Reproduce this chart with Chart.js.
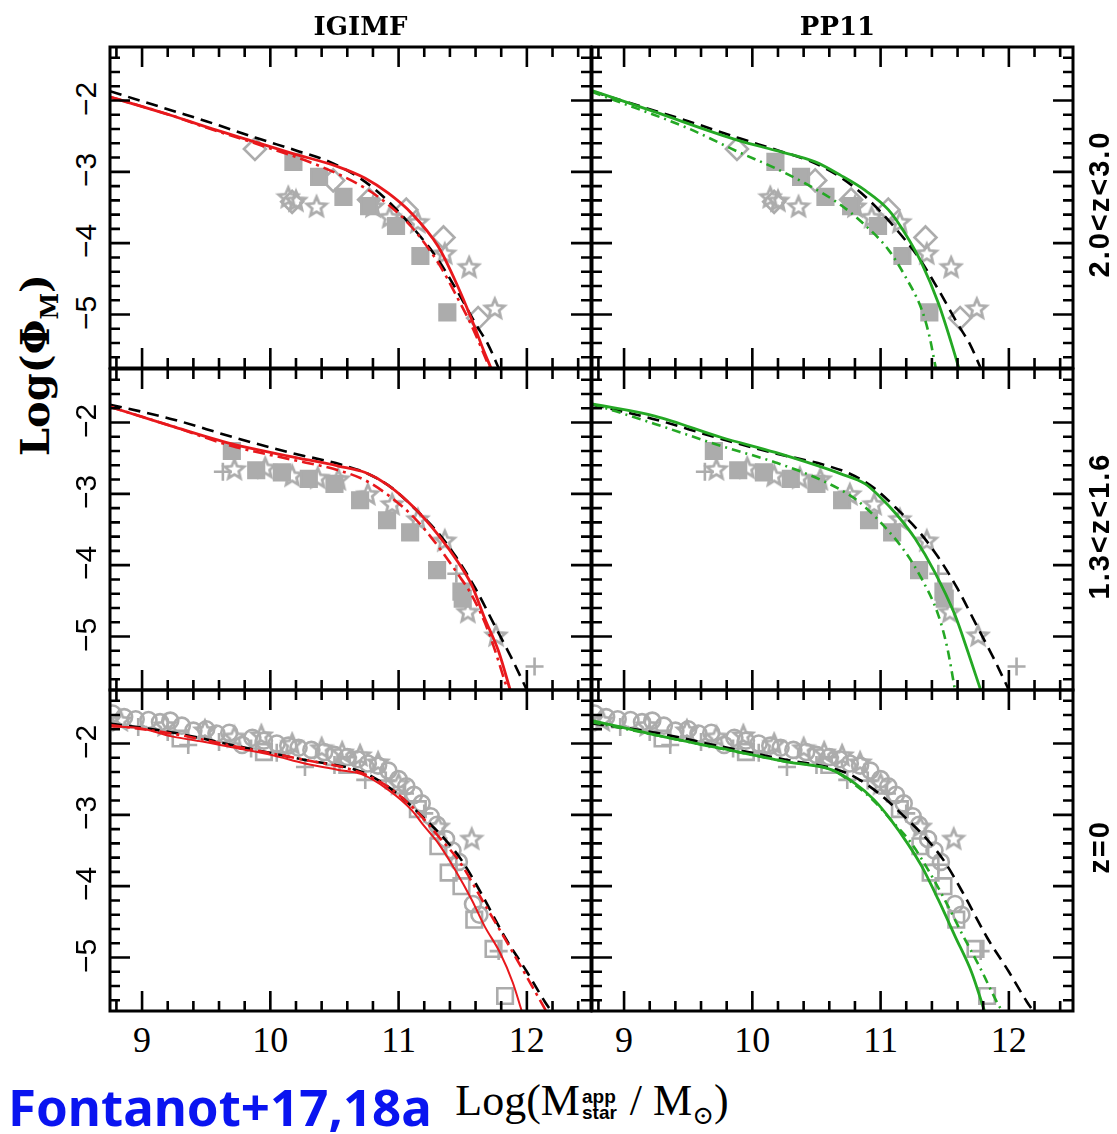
<!DOCTYPE html>
<html>
<head>
<meta charset="utf-8">
<script src="https://cdn.jsdelivr.net/npm/chart.js@4"></script>
<style>
  body { margin: 0; background: #fff; }
  #page { position: relative; width: 1117px; height: 1134px; overflow: hidden; background: #fff; }
  canvas { position: absolute; }
  .lbl { position: absolute; white-space: nowrap; line-height: 1; color: #000; }
  .ctr { transform: translate(-50%, -50%); }
  .rot { transform: translate(-50%, -50%) rotate(-90deg); }
  .serif { font-family: 'Liberation Serif', 'DejaVu Serif', serif; }
  .dserif { font-family: 'DejaVu Serif', serif; font-weight: bold; }
  .sans { font-family: 'Liberation Sans', Arial, sans-serif; }
  .stack { display: inline-block; vertical-align: middle; font-family: 'Liberation Sans', sans-serif; font-weight: bold; font-size: 19px; line-height: 0.85; text-align: left; margin: 0 2px; }
  .stack span { display: block; }
</style>
</head>
<body>
<div id="page"></div>
<script>
// axis ticks and labels
const xTicks = [9, 10, 11, 12];
const yTicks = [-2, -3, -4, -5];
const colTitles = ['IGIMF', 'PP11'];
const rowLabels = ['2.0<z<3.0', '1.3<z<1.6', 'z=0'];

// black dashed reference curve, one per redshift bin (same in both columns)
const ref_z25 = [[8.75,-1.87],[9.0,-2.01],[9.25,-2.15],[9.5,-2.29],[9.9,-2.53],[10.2,-2.70],[10.45,-2.85],[10.7,-3.09],[10.9,-3.38],[11.1,-3.76],[11.3,-4.21],[11.45,-4.65],[11.6,-5.13],[11.7,-5.43],[11.78,-5.75]];
const ref_z14 = [[8.75,-1.75],[9.0,-1.85],[9.25,-1.96],[9.7,-2.2],[10.15,-2.42],[10.55,-2.59],[10.75,-2.71],[10.95,-2.92],[11.15,-3.25],[11.3,-3.53],[11.45,-3.89],[11.6,-4.33],[11.75,-4.85],[11.88,-5.3],[12.0,-5.75]];
const ref_z0 = [[8.75,-1.72],[9.0,-1.78],[9.25,-1.85],[9.75,-2.04],[10.27,-2.23],[10.65,-2.36],[10.8,-2.47],[11.0,-2.72],[11.2,-3.05],[11.35,-3.32],[11.5,-3.66],[11.65,-4.12],[11.83,-4.72],[12.0,-5.2],[12.14,-5.62],[12.19,-5.75]];

// IGIMF model (red): solid and dash-dot
const igimf_z25 = [[8.75,-1.95],[9.23,-2.21],[9.5,-2.37],[9.88,-2.58],[10.17,-2.74],[10.53,-2.93],[10.74,-3.09],[10.92,-3.30],[11.10,-3.58],[11.31,-4.05],[11.46,-4.60],[11.57,-5.07],[11.66,-5.49],[11.72,-5.75]];
const igimfDD_z25 = [[8.75,-1.95],[9.23,-2.21],[9.5,-2.38],[9.88,-2.60],[10.40,-2.93],[10.74,-3.23],[10.92,-3.46],[11.10,-3.77],[11.31,-4.28],[11.46,-4.77],[11.57,-5.16],[11.71,-5.75]];
const igimf_z14 = [[8.75,-1.78],[9.23,-2.05],[9.70,-2.30],[10.14,-2.47],[10.53,-2.61],[10.74,-2.70],[10.92,-2.88],[11.13,-3.21],[11.31,-3.58],[11.46,-3.95],[11.57,-4.28],[11.67,-4.74],[11.78,-5.21],[11.87,-5.75]];
const igimfDD_z14 = [[8.75,-1.78],[9.23,-2.05],[9.70,-2.33],[10.14,-2.51],[10.53,-2.67],[10.74,-2.81],[10.92,-3.02],[11.13,-3.35],[11.31,-3.74],[11.46,-4.12],[11.57,-4.42],[11.70,-4.93],[11.85,-5.75]];
const igimf_z0 = [[8.75,-1.76],[8.97,-1.78],[9.23,-1.90],[9.49,-1.98],[9.75,-2.07],[10.01,-2.16],[10.27,-2.28],[10.53,-2.37],[10.71,-2.43],[10.92,-2.65],[11.10,-2.93],[11.20,-3.16],[11.31,-3.40],[11.44,-3.77],[11.57,-4.19],[11.67,-4.56],[11.79,-4.93],[11.89,-5.35],[11.96,-5.75]];
const igimfDD_z0 = [[8.75,-1.74],[9.23,-1.86],[9.75,-2.05],[10.27,-2.23],[10.69,-2.40],[10.92,-2.61],[11.13,-2.93],[11.31,-3.30],[11.48,-3.67],[11.65,-4.19],[11.83,-4.74],[11.98,-5.21],[12.15,-5.75]];

// PP11 model (green): solid and dash-dot
const pp11_z25 = [[8.75,-1.86],[9.24,-2.16],[9.89,-2.56],[10.18,-2.70],[10.49,-2.86],[10.69,-3.05],[10.88,-3.26],[11.06,-3.53],[11.19,-3.86],[11.32,-4.28],[11.45,-4.84],[11.55,-5.39],[11.61,-5.75]];
const pp11DD_z25 = [[8.75,-1.88],[8.93,-2.0],[9.50,-2.39],[9.89,-2.72],[10.18,-2.95],[10.41,-3.16],[10.67,-3.44],[10.85,-3.70],[11.06,-4.09],[11.19,-4.46],[11.32,-4.93],[11.38,-5.30],[11.43,-5.75]];
const pp11_z14 = [[8.75,-1.74],[9.24,-1.91],[9.76,-2.21],[10.18,-2.42],[10.69,-2.72],[10.88,-2.86],[11.0,-3.05],[11.13,-3.30],[11.27,-3.63],[11.42,-4.09],[11.58,-4.70],[11.68,-5.21],[11.78,-5.75]];
const pp11DD_z14 = [[8.75,-1.74],[8.93,-1.84],[9.24,-2.02],[9.76,-2.33],[10.18,-2.56],[10.54,-2.81],[10.80,-3.07],[11.0,-3.40],[11.19,-3.81],[11.32,-4.19],[11.45,-4.70],[11.52,-5.16],[11.58,-5.75]];
const pp11_z0 = [[8.75,-1.68],[8.98,-1.77],[9.24,-1.88],[9.76,-2.07],[10.28,-2.26],[10.62,-2.37],[10.80,-2.56],[10.95,-2.79],[11.08,-3.07],[11.21,-3.40],[11.32,-3.72],[11.45,-4.19],[11.58,-4.70],[11.71,-5.21],[11.81,-5.75]];
const pp11DD_z0 = [[8.75,-1.70],[9.24,-1.88],[10.28,-2.26],[10.62,-2.37],[10.80,-2.58],[10.95,-2.81],[11.08,-3.07],[11.24,-3.40],[11.37,-3.77],[11.50,-4.19],[11.63,-4.65],[11.78,-5.16],[11.93,-5.70],[11.95,-5.75]];

// observed points (grey)
const obsSquare_z25 = [[10.18,-2.86],[10.38,-3.07],[10.57,-3.35],[10.77,-3.48],[10.98,-3.76],[11.17,-4.18],[11.38,-4.97]];
const obsDiamond_z25 = [[9.88,-2.68],[10.17,-3.42],[10.49,-3.12],[10.77,-3.39],[11.06,-3.53],[11.35,-3.92],[11.62,-5.05]];
const obsStar_z25 = [[10.14,-3.35],[10.20,-3.40],[10.36,-3.48],[10.80,-3.48],[10.93,-3.63],[11.15,-3.70],[11.36,-4.14],[11.55,-4.33],[11.75,-4.91]];

const obsSquare_z14 = [[9.70,-2.40],[9.89,-2.67],[10.09,-2.70],[10.30,-2.79],[10.50,-2.86],[10.70,-3.09],[10.91,-3.37],[11.09,-3.54],[11.30,-4.07],[11.49,-4.37],[11.50,-4.47]];
const obsStar_z14 = [[9.72,-2.65],[9.96,-2.63],[10.17,-2.74],[10.37,-2.77],[10.53,-2.79],[10.76,-3.0],[10.95,-3.14],[11.15,-3.35],[11.36,-3.65],[11.54,-4.65],[11.76,-4.98]];
const obsCross_z14 = [[9.63,-2.69],[11.45,-4.12],[12.06,-5.42]];

const obsCircle_z0 = [[8.77,-1.58],[8.86,-1.63],[8.95,-1.66],[9.05,-1.67],[9.14,-1.70],[9.22,-1.68],[9.31,-1.75],[9.40,-1.82],[9.50,-1.80],[9.58,-1.86],[9.68,-1.85],[9.78,-2.02],[9.86,-1.92],[9.95,-1.96],[10.05,-2.0],[10.14,-2.03],[10.22,-2.06],[10.32,-2.09],[10.42,-2.12],[10.50,-2.16],[10.60,-2.19],[10.68,-2.22],[10.76,-2.28],[10.84,-2.31],[10.92,-2.38],[11.0,-2.50],[11.06,-2.60],[11.12,-2.72],[11.18,-2.84],[11.25,-3.02],[11.30,-3.14],[11.37,-3.34],[11.42,-3.50],[11.47,-3.66],[11.58,-4.25],[11.63,-4.40]];
const obsStar_z0 = [[8.83,-1.67],[9.18,-1.74],[9.49,-1.81],[9.72,-1.90],[9.93,-1.88],[10.17,-2.0],[10.40,-2.06],[10.56,-2.12],[10.70,-2.16],[10.84,-2.26],[11.0,-2.56],[11.31,-3.16],[11.57,-3.33]];
const obsCross_z0 = [[8.97,-1.77],[9.20,-1.84],[9.36,-2.02],[9.60,-1.98],[9.85,-2.07],[10.05,-2.13],[10.27,-2.33],[10.50,-2.30],[10.74,-2.51],[10.90,-2.52],[11.05,-2.70],[11.20,-2.98],[11.45,-3.70],[11.78,-4.91]];
const obsOpenSquare_z0 = [[9.30,-1.93],[9.95,-2.12],[10.60,-2.30],[11.15,-2.92],[11.31,-3.44],[11.39,-3.81],[11.49,-4.0],[11.59,-4.47],[11.74,-4.88],[11.83,-5.54]];

// ---------------------------------------------------------------
const RED = 'rgb(232,24,28)';
const GREEN = 'rgb(36,168,36)';
const GREY = 'rgb(172,172,172)';

const panelLeft = [110, 592];
const panelTop = [47, 369, 690];
const panelW = 481, panelH = 321, pad = 8;

const page = document.getElementById('page');

function toXY(pts) {
  return pts.map(p => ({ x: p[0], y: p[1] }));
}

// open five pointed star used as a point style
function starImage(size, color, lw) {
  const c = document.createElement('canvas');
  c.width = c.height = size;
  const g = c.getContext('2d');
  const R = size / 2 - lw, r = R * 0.45;
  g.beginPath();
  for (let k = 0; k < 10; k++) {
    const a = -Math.PI / 2 + k * Math.PI / 5;
    const rr = k % 2 ? r : R;
    g.lineTo(size / 2 + rr * Math.cos(a), size / 2 + 1 + rr * Math.sin(a));
  }
  g.closePath();
  g.strokeStyle = color;
  g.lineWidth = lw;
  g.stroke();
  return c;
}
const starStyle = starImage(26, GREY, 2.8);

function curve(pts, color, dash, width) {
  return {
    data: toXY(pts), showLine: true, borderColor: color, borderWidth: width,
    borderDash: dash, pointRadius: 0, fill: false, cubicInterpolationMode: 'monotone'
  };
}
function marks(pts, style, radius, filled) {
  return {
    data: toXY(pts), showLine: false, pointStyle: style, pointRadius: radius,
    borderColor: GREY, backgroundColor: filled ? GREY : 'rgba(0,0,0,0)', borderWidth: 2.6
  };
}

// ticks on all four sides, drawn inwards, plus the frame
const framePlugin = {
  id: 'frame',
  afterDatasetsDraw(chart) {
    const { ctx, chartArea: a, scales: { x, y } } = chart;
    ctx.save();
    ctx.strokeStyle = '#000';
    ctx.lineWidth = 2.6;
    ctx.beginPath();
    for (let i = Math.ceil(x.min * 5); i <= Math.floor(x.max * 5); i++) {
      const px = x.getPixelForValue(i / 5);
      const len = i % 5 === 0 ? 20 : 10;
      ctx.moveTo(px, a.top); ctx.lineTo(px, a.top + len);
      ctx.moveTo(px, a.bottom); ctx.lineTo(px, a.bottom - len);
    }
    for (let i = Math.ceil(y.min * 5); i <= Math.floor(y.max * 5); i++) {
      const py = y.getPixelForValue(i / 5);
      const len = i % 5 === 0 ? 20 : 10;
      ctx.moveTo(a.left, py); ctx.lineTo(a.left + len, py);
      ctx.moveTo(a.right, py); ctx.lineTo(a.right - len, py);
    }
    ctx.stroke();
    ctx.lineWidth = 3;
    ctx.strokeRect(a.left, a.top, a.right - a.left, a.bottom - a.top);
    ctx.restore();
  }
};

function addLabel(text, x, y, cls, css) {
  const d = document.createElement('div');
  d.className = 'lbl ' + cls;
  d.innerHTML = text;
  d.style.left = x + 'px';
  d.style.top = y + 'px';
  Object.assign(d.style, css || {});
  page.appendChild(d);
  return d;
}

const rows = [
  { ref: ref_z25, models: [[igimf_z25, igimfDD_z25], [pp11_z25, pp11DD_z25]],
    obs: [marks(obsSquare_z25, 'rect', 11, true), marks(obsDiamond_z25, 'rectRot', 11, false), marks(obsStar_z25, starStyle, 11, false)] },
  { ref: ref_z14, models: [[igimf_z14, igimfDD_z14], [pp11_z14, pp11DD_z14]],
    obs: [marks(obsSquare_z14, 'rect', 11, true), marks(obsStar_z14, starStyle, 11, false), marks(obsCross_z14, 'cross', 9, false)] },
  { ref: ref_z0, models: [[igimf_z0, igimfDD_z0], [pp11_z0, pp11DD_z0]],
    obs: [marks(obsCircle_z0, 'circle', 8, false), marks(obsStar_z0, starStyle, 11, false), marks(obsCross_z0, 'cross', 9, false), marks(obsOpenSquare_z0, 'rect', 11, false)] }
];

rows.forEach((row, r) => {
  [0, 1].forEach(c => {
    const color = c === 0 ? RED : GREEN;
    const solidW = (r === 2 && c === 0) ? 2 : 2.8;
    const dd = c === 0 ? [12, 5, 3, 5] : [9, 5, 2, 5];
    const datasets = [
      curve(row.models[c][0], color, [], solidW),
      curve(row.models[c][1], color, dd, 2.6),
      curve(row.ref, '#000', [12, 7], 2.6)
    ].concat(row.obs);

    const cv = document.createElement('canvas');
    const left = panelLeft[c] - pad, top = panelTop[r] - pad;
    cv.width = panelW + 2 * pad;
    cv.height = panelH + 2 * pad;
    cv.style.left = left + 'px';
    cv.style.top = top + 'px';
    page.appendChild(cv);

    const chart = new Chart(cv, {
      type: 'scatter',
      data: { datasets: datasets },
      options: {
        responsive: false,
        animation: false,
        layout: { padding: pad, autoPadding: false },
        plugins: { legend: { display: false }, tooltip: { enabled: false } },
        scales: {
          x: { type: 'linear', min: 8.75, max: 12.5, display: false },
          y: { type: 'linear', min: -5.75, max: -1.25, display: false }
        }
      },
      plugins: [framePlugin]
    });

    // tick labels placed from the chart's own scales
    if (c === 0) {
      yTicks.forEach(v => {
        addLabel('\u2212' + Math.abs(v), 86, top + chart.scales.y.getPixelForValue(v) - 2, 'rot sans', { fontSize: '30px' });
      });
    }
    if (r === 2) {
      xTicks.forEach(v => {
        addLabel(String(v), left + chart.scales.x.getPixelForValue(v), 1040, 'ctr serif', { fontSize: '36px' });
      });
    }
    if (r === 0) {
      addLabel(colTitles[c], panelLeft[c] + panelW / 2 + (c === 0 ? 10 : 5), 26, 'ctr dserif', { fontSize: '26px' });
    }
    if (c === 1) {
      addLabel(rowLabels[r].replace(/</g, '&lt;'), 1099, panelTop[r] + panelH / 2 - 4, 'rot sans', { fontSize: '29px', fontWeight: 'bold', letterSpacing: '2px' });
    }
  });
});

addLabel('Log(\u03A6<sub style="font-size:24px">M</sub>)', 38, 365, 'rot dserif', { fontSize: '40px' });
addLabel('Log(M<span class="stack"><span>app</span><span>star</span></span> / M<sub style="font-size:26px">\u2299</sub>)', 592, 1104, 'ctr serif', { fontSize: '44px' });
addLabel('Fontanot+17,18a', 8, 1106, '', { transform: 'translateY(-50%)', fontFamily: "'Noto Sans', sans-serif", fontWeight: 'bold', fontSize: '51px', color: 'rgb(10,20,240)' });
</script>
</body>
</html>
